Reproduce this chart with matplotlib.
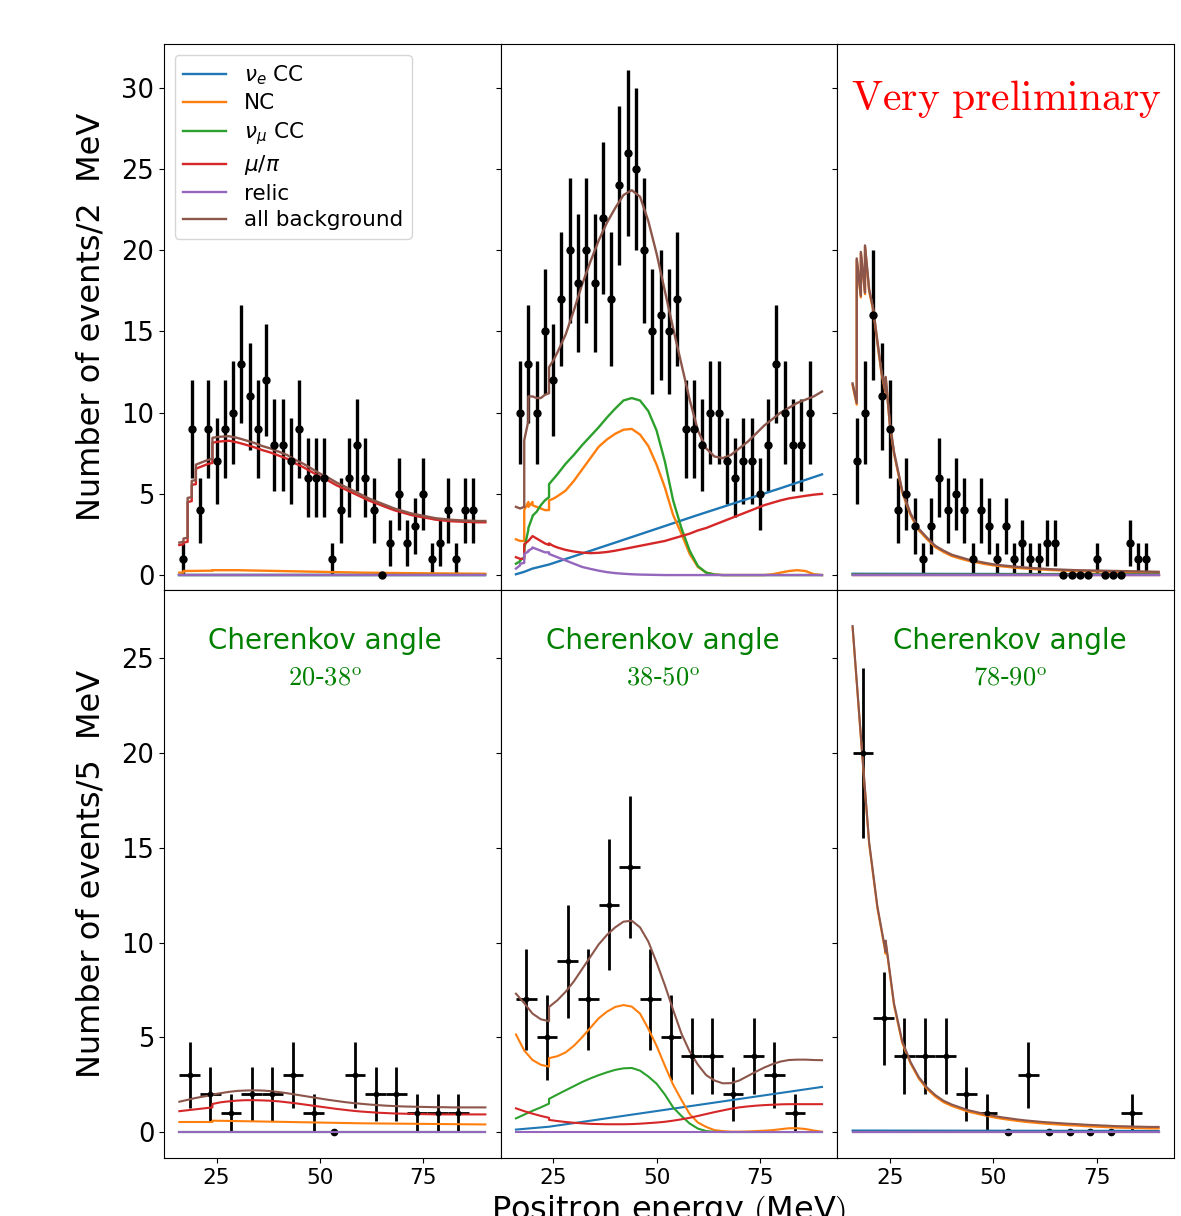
import matplotlib.pyplot as plt
import numpy as np

plt.rcParams["font.family"] = "DejaVu Sans"

# ---- measured points ----
bins_2mev = np.arange(17, 88, 2)        # top row, 2 MeV bins
bins_5mev = np.arange(18.5, 84, 5)      # bottom row, 5 MeV bins

counts_tl = [1, 9, 4, 9, 7, 9, 10, 13, 11, 9, 12, 8, 8, 7, 9, 6, 6, 6,
             1, 4, 6, 8, 6, 4, 0, 2, 5, 2, 3, 5, 1, 2, 4, 1, 4, 4]
counts_tm = [10, 13, 10, 15, 12, 17, 20, 18, 20, 18, 22, 17, 24, 26, 25, 20, 15, 16,
             15, 17, 9, 9, 8, 10, 10, 7, 6, 7, 7, 5, 8, 13, 10, 8, 8, 10]
counts_tr = [7, 10, 16, 11, 9, 4, 5, 3, 1, 3, 6, 4, 5, 4, 1, 4, 3, 1,
             3, 1, 2, 1, 1, 2, 2, 0, 0, 0, 0, 1, 0, 0, 0, 2, 1, 1]

counts_bl = [3, 2, 1, 2, 2, 3, 1, 0, 3, 2, 2, 1, 1, 1]
counts_bm = [7, 5, 9, 7, 12, 14, 7, 5, 4, 4, 2, 4, 3, 1]
counts_br = [20, 6, 4, 4, 4, 2, 1, 0, 3, 0, 0, 0, 0, 1]

# ---- background model curves ----
E_ends = [16, 90]
flat_zero = [0.0, 0.0]

# top row grid (repeated energies give the vertical steps)
E_top = [16, 17, 17, 18, 18, 19, 19, 20, 20, 21, 22, 23, 24, 24, 25, 26,
         28, 30, 32, 34, 36, 38, 40, 42, 44, 46, 48, 50, 52, 54, 56, 58,
         60, 62, 64, 66, 68, 70, 72, 74, 76, 78, 80, 82, 84, 86, 88, 90]

tl_all = [2.0, 2.05, 2.25, 2.3, 4.75, 4.8, 5.8, 5.85, 6.8, 6.9, 7.0, 7.1, 7.15, 8.45, 8.5, 8.52,
          8.55, 8.45, 8.3, 8.15, 7.95, 7.8, 7.6, 7.4, 7.1, 6.85, 6.55, 6.25, 6.0, 5.7, 5.45, 5.2,
          4.95, 4.7, 4.5, 4.3, 4.1, 3.95, 3.8, 3.7, 3.6, 3.5, 3.45, 3.4, 3.37, 3.35, 3.33, 3.33]
tl_mupi = [1.85, 1.9, 2.0, 2.05, 4.5, 4.55, 5.55, 5.6, 6.55, 6.65, 6.75, 6.85, 6.9, 8.15, 8.2, 8.23,
           8.27, 8.17, 8.03, 7.88, 7.7, 7.55, 7.36, 7.17, 6.88, 6.64, 6.35, 6.06, 5.82, 5.53, 5.29, 5.05,
           4.81, 4.57, 4.38, 4.18, 3.99, 3.85, 3.7, 3.6, 3.51, 3.41, 3.36, 3.31, 3.29, 3.27, 3.25, 3.25]
tl_nc_E = [16, 17, 17, 24, 24, 30, 40, 50, 60, 70, 80, 90]
tl_nc = [0.15, 0.15, 0.25, 0.27, 0.3, 0.3, 0.25, 0.2, 0.15, 0.12, 0.1, 0.08]

tm_all = [4.2, 4.1, 4.1, 4.2, 8.3, 9.5, 11.0, 11.0, 11.0, 10.9, 10.9, 11.1, 11.2, 12.8, 13.2, 13.7,
          14.8, 16.3, 17.9, 19.3, 20.6, 21.7, 22.6, 23.4, 23.7, 23.3, 21.8, 19.8, 17.5, 15.2, 13.0, 10.8,
          8.9, 7.8, 7.3, 7.2, 7.4, 7.8, 8.2, 8.7, 9.2, 9.6, 10.0, 10.3, 10.6, 10.8, 11.0, 11.3]
tm_nc = [2.2, 2.1, 2.1, 2.1, 4.0, 4.5, 4.2, 4.5, 4.3, 4.2, 4.1, 4.0, 4.0, 4.6, 4.7, 4.85,
         5.2, 5.8, 6.5, 7.2, 7.9, 8.35, 8.7, 8.95, 9.0, 8.65, 7.95, 6.8, 5.4, 3.7, 2.55, 1.3,
         0.5, 0.15, 0.04, 0.0, 0.0, 0.0, 0.0, 0.0, 0.0, 0.05, 0.15, 0.25, 0.3, 0.25, 0.05, 0.0]
tm_numu = [0.7, 0.85, 0.9, 1.1, 1.6, 2.8, 2.9, 3.6, 3.65, 3.9, 4.3, 4.6, 4.8, 5.6, 5.9, 6.2,
           6.85, 7.4, 8.0, 8.55, 9.1, 9.7, 10.25, 10.75, 10.9, 10.75, 10.1, 8.9, 7.0, 4.6, 2.9, 1.5,
           0.55, 0.15, 0.03, 0.0, 0.0, 0.0, 0.0, 0.0, 0.0, 0.0, 0.0, 0.0, 0.0, 0.0, 0.0, 0.0]
tm_mupi = [1.1, 1.0, 1.0, 1.0, 1.9, 2.1, 2.1, 2.4, 2.4, 2.25, 2.1, 1.95, 1.85, 1.95, 1.8, 1.7,
           1.55, 1.45, 1.38, 1.35, 1.37, 1.42, 1.5, 1.6, 1.7, 1.8, 1.9, 2.0, 2.1, 2.25, 2.4, 2.55,
           2.75, 2.9, 3.1, 3.3, 3.5, 3.7, 3.9, 4.1, 4.3, 4.45, 4.6, 4.72, 4.8, 4.88, 4.95, 5.0]
tm_relic = [0.4, 0.6, 0.7, 0.75, 1.3, 1.45, 1.5, 1.65, 1.7, 1.6, 1.5, 1.4, 1.4, 1.3, 1.2, 1.1,
            0.9, 0.7, 0.5, 0.38, 0.27, 0.18, 0.12, 0.08, 0.05, 0.03, 0.02, 0.01, 0.0, 0.0, 0.0, 0.0,
            0.0, 0.0, 0.0, 0.0, 0.0, 0.0, 0.0, 0.0, 0.0, 0.0, 0.0, 0.0, 0.0, 0.0, 0.0, 0.0]
tm_nue_E = [16, 18, 20, 24, 40, 60, 80, 90]
tm_nue = [0.05, 0.2, 0.4, 0.65, 2.0, 3.7, 5.35, 6.2]

tr_all = [11.8, 10.6, 19.5, 17.2, 19.9, 17.4, 20.3, 17.6, 17.6, 16.4, 14.4, 12.5, 11.3, 12.2, 9.4, 7.6,
          5.2, 3.8, 2.85, 2.3, 1.8, 1.5, 1.25, 1.1, 0.95, 0.85, 0.75, 0.66, 0.6, 0.55, 0.5, 0.46,
          0.42, 0.39, 0.36, 0.34, 0.32, 0.3, 0.29, 0.28, 0.27, 0.26, 0.25, 0.24, 0.23, 0.22, 0.21, 0.2]
tr_nc = [11.7, 10.5, 19.4, 17.1, 19.8, 17.3, 20.2, 17.5, 17.5, 16.3, 14.3, 12.4, 11.2, 12.1, 9.3, 7.5,
         5.1, 3.7, 2.76, 2.21, 1.72, 1.42, 1.17, 1.02, 0.88, 0.78, 0.68, 0.6, 0.54, 0.49, 0.44, 0.4,
         0.37, 0.34, 0.31, 0.29, 0.27, 0.25, 0.24, 0.23, 0.22, 0.21, 0.2, 0.19, 0.18, 0.17, 0.16, 0.15]
tr_nue = [0.08, 0.05]
tr_numu = [0.03, 0.04]
tr_mupi = [0.02, 0.02]

# bottom row grid
E_bot = [16, 18, 20, 22, 24, 24, 26, 28, 30, 32, 34, 36, 38, 40, 42, 44, 46, 48, 50,
         52, 54, 56, 58, 60, 62, 64, 66, 68, 70, 72, 74, 76, 78, 80, 82, 84, 86, 88, 90]

bl_all = [1.6, 1.7, 1.8, 1.88, 1.95, 1.98, 2.05, 2.12, 2.17, 2.19, 2.2, 2.19, 2.16, 2.11, 2.05, 1.98,
          1.91, 1.84, 1.77, 1.7, 1.64, 1.58, 1.53, 1.49, 1.45, 1.42, 1.39, 1.37, 1.35, 1.34, 1.33,
          1.32, 1.31, 1.31, 1.3, 1.3, 1.3, 1.3, 1.3]
bl_mupi = [1.1, 1.15, 1.2, 1.25, 1.3, 1.48, 1.57, 1.62, 1.66, 1.68, 1.68, 1.67, 1.65, 1.62, 1.57, 1.52,
           1.46, 1.4, 1.34, 1.28, 1.22, 1.17, 1.12, 1.08, 1.05, 1.02, 1.0, 0.98, 0.97, 0.96, 0.95,
           0.94, 0.93, 0.93, 0.93, 0.93, 0.93, 0.93, 0.93]
bl_nc_E = [16, 24, 24, 40, 60, 90]
bl_nc = [0.53, 0.53, 0.6, 0.54, 0.46, 0.4]

bm_all = [7.3, 6.8, 6.25, 5.95, 5.85, 6.6, 6.95, 7.4, 7.95, 8.6, 9.25, 9.9, 10.4, 10.8, 11.1, 11.15,
          10.8, 10.05, 8.95, 7.75, 6.45, 5.2, 4.25, 3.55, 3.0, 2.72, 2.57, 2.58, 2.72, 2.95, 3.18,
          3.4, 3.58, 3.72, 3.8, 3.82, 3.82, 3.8, 3.79]
bm_nc = [5.15, 4.3, 3.8, 3.55, 3.45, 3.9, 4.0, 4.2, 4.55, 5.0, 5.5, 6.0, 6.35, 6.6, 6.7, 6.62,
         6.25, 5.45, 4.55, 3.5, 2.5, 1.7, 0.95, 0.5, 0.27, 0.1, 0.05, 0.02, 0.02, 0.03, 0.05,
         0.07, 0.1, 0.15, 0.2, 0.2, 0.16, 0.08, 0.02]
bm_numu = [0.72, 0.92, 1.12, 1.3, 1.5, 1.75, 1.98, 2.2, 2.42, 2.64, 2.83, 3.0, 3.15, 3.28, 3.36, 3.38,
           3.24, 2.93, 2.55, 1.98, 1.3, 0.85, 0.45, 0.18, 0.05, 0.01, 0.0, 0.0, 0.0, 0.0, 0.0,
           0.0, 0.0, 0.0, 0.0, 0.0, 0.0, 0.0, 0.0]
bm_mupi = [1.25, 1.1, 0.97, 0.85, 0.75, 0.64, 0.58, 0.53, 0.49, 0.46, 0.43, 0.42, 0.41, 0.41, 0.41, 0.42,
           0.44, 0.47, 0.5, 0.54, 0.6, 0.67, 0.75, 0.85, 0.95, 1.05, 1.14, 1.23, 1.3, 1.35, 1.39,
           1.42, 1.44, 1.46, 1.47, 1.47, 1.47, 1.47, 1.47]
bm_nue_E = [16, 24, 90]
bm_nue = [0.13, 0.28, 2.38]

br_all = [26.7, 20.9, 15.3, 11.9, 9.5, 10.1, 6.8, 4.8, 3.7, 2.9, 2.35, 1.95, 1.65, 1.45, 1.3, 1.15,
          1.05, 0.95, 0.86, 0.78, 0.72, 0.66, 0.61, 0.57, 0.53, 0.5, 0.47, 0.44, 0.42, 0.39, 0.37,
          0.35, 0.33, 0.31, 0.3, 0.29, 0.28, 0.27, 0.27]
br_nc = [26.6, 20.8, 15.2, 11.8, 9.4, 10.0, 6.7, 4.7, 3.62, 2.82, 2.27, 1.87, 1.57, 1.37, 1.22, 1.07,
         0.97, 0.87, 0.78, 0.7, 0.64, 0.58, 0.53, 0.49, 0.45, 0.42, 0.39, 0.36, 0.34, 0.31, 0.29,
         0.27, 0.25, 0.23, 0.22, 0.21, 0.2, 0.19, 0.19]
br_nue = [0.08, 0.06]
br_numu = [0.02, 0.02]
br_mupi = [0.02, 0.02]

labels = [r"$\nu_e$ CC", "NC", r"$\nu_\mu$ CC", r"$\mu/\pi$", "relic", "all background"]
colors = ["C0", "C1", "C2", "C3", "C4", "C5"]

fig = plt.figure(figsize=(11.81, 12.16), dpi=100)
gs = fig.add_gridspec(2, 3, height_ratios=[546, 568], left=0.1389, right=0.994,
                      bottom=0.0477, top=0.9638, wspace=0, hspace=0)
axes = gs.subplots(sharex=True, sharey="row")

top_curves = [
    [(E_ends, flat_zero), (tl_nc_E, tl_nc), (E_ends, flat_zero), (E_top, tl_mupi), (E_ends, flat_zero), (E_top, tl_all)],
    [(tm_nue_E, tm_nue), (E_top, tm_nc), (E_top, tm_numu), (E_top, tm_mupi), (E_top, tm_relic), (E_top, tm_all)],
    [(E_ends, tr_nue), (E_top, tr_nc), (E_ends, tr_numu), (E_ends, tr_mupi), (E_ends, flat_zero), (E_top, tr_all)],
]
bot_curves = [
    [(E_ends, flat_zero), (bl_nc_E, bl_nc), (E_ends, flat_zero), (E_bot, bl_mupi), (E_ends, flat_zero), (E_bot, bl_all)],
    [(bm_nue_E, bm_nue), (E_bot, bm_nc), (E_bot, bm_numu), (E_bot, bm_mupi), (E_ends, flat_zero), (E_bot, bm_all)],
    [(E_ends, br_nue), (E_bot, br_nc), (E_ends, br_numu), (E_ends, br_mupi), (E_ends, flat_zero), (E_bot, br_all)],
]

# top row: 2 MeV bins
for ax, counts, curves in zip(axes[0], [counts_tl, counts_tm, counts_tr], top_curves):
    n = np.array(counts, dtype=float)
    ax.errorbar(bins_2mev, n, yerr=np.sqrt(n), fmt="o", color="k", ms=5,
                elinewidth=2.4, capsize=0)
    for (x, y), c, lab in zip(curves, colors, labels):
        ax.plot(x, y, color=c, lw=1.7, label=lab)

# bottom row: 5 MeV bins
for ax, counts, curves in zip(axes[1], [counts_bl, counts_bm, counts_br], bot_curves):
    n = np.array(counts, dtype=float)
    nz = n > 0
    ax.errorbar(bins_5mev[nz], n[nz], yerr=np.sqrt(n[nz]), xerr=2.5, fmt="o", color="k",
                ms=3.2, elinewidth=2, capsize=0)
    ax.plot(bins_5mev[~nz], n[~nz], "o", color="k", ms=4.5)
    for (x, y), c in zip(curves, colors):
        ax.plot(x, y, color=c, lw=1.5)

axes[0, 0].legend(loc="upper left", fontsize=15.5, labelspacing=0.3)

axes[0, 0].set_xlim(12.3, 93.7)
axes[0, 0].set_xticks([25, 50, 75])
axes[0, 0].set_ylim(-0.92, 32.7)
axes[0, 0].set_yticks(range(0, 31, 5))
axes[1, 0].set_ylim(-1.37, 28.6)
axes[1, 0].set_yticks(range(0, 26, 5))

for ax in axes.flat:
    ax.tick_params(axis="y", labelsize=18.5)
    ax.tick_params(axis="x", labelsize=15.5)

axes[0, 0].set_ylabel("Number of events/2  MeV", fontsize=23, labelpad=11)
axes[1, 0].set_ylabel("Number of events/5  MeV", fontsize=23, labelpad=11)
axes[1, 1].set_xlabel(r"Positron energy $($MeV$)$", fontsize=23, math_fontfamily="cm")

axes[0, 2].text(0.04, 0.90, r"$\mathrm{Very\ preliminary}$", transform=axes[0, 2].transAxes,
                color="red", fontsize=30, ha="left", va="center", math_fontfamily="cm")

angle_text = [(0.478, r"$\mathrm{20}$-$\mathrm{38^o}$"),
              (0.482, r"$\mathrm{38}$-$\mathrm{50^o}$"),
              (0.513, r"$\mathrm{78}$-$\mathrm{90^o}$")]
for ax, (xf, rng) in zip(axes[1], angle_text):
    ax.text(xf, 0.910, "Cherenkov angle", transform=ax.transAxes, color="green",
            fontsize=20, ha="center", va="center")
    ax.text(xf, 0.845, rng, transform=ax.transAxes, color="green",
            fontsize=19, ha="center", va="center", math_fontfamily="cm")

fig.savefig("out.png", dpi=100)
